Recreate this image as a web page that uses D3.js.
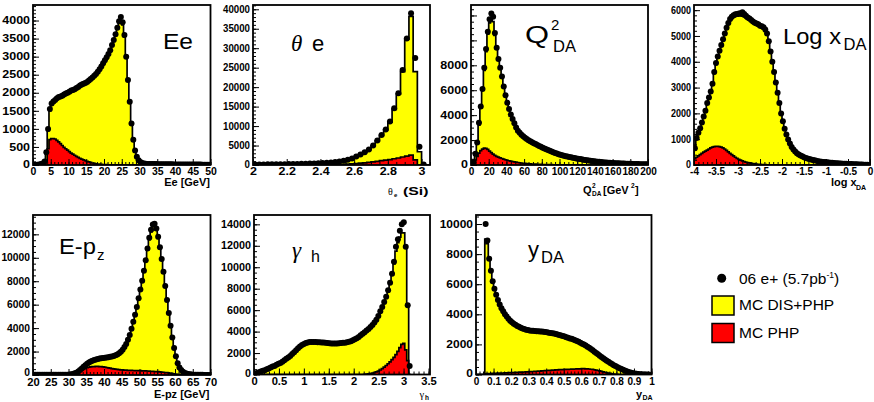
<!DOCTYPE html>
<html><head><meta charset="utf-8">
<script src="https://cdn.jsdelivr.net/npm/d3@7"></script>
<style>
body{margin:0;background:#fff;}
svg{display:block;font-family:"Liberation Sans",Arial,Helvetica,sans-serif;}
</style></head><body>
<svg id="c" width="874" height="402"></svg>
<script>
// ---------- Ee (0.5 GeV bins from 0) ----------
const eeData = [10,10,10,15,25,40,100,350,1000,1550,
1700,1760,1800,1850,1880,1900,1920,1950,1980,2000,
2030,2060,2080,2100,2130,2160,2200,2230,2250,2270,
2300,2340,2380,2420,2470,2520,2580,2650,2730,2820,
2900,2980,3070,3180,3320,3460,3620,3800,3980,4100,
3950,3600,3000,2350,1750,1150,700,400,230,130,
80,55,40,35,30,30,28,27,26,25,
24,23,22,21,20,20,19,18,18,17,
17,16,16,15,15,14,14,13,13,12,
12,12,11,11,11,10,10,10,10,10];
const eeMC = [5,5,5,10,20,35,90,320,950,1500,
1680,1750,1800,1840,1870,1890,1910,1940,1970,1990,
2020,2050,2070,2090,2120,2150,2180,2210,2240,2260,
2290,2330,2370,2410,2460,2510,2570,2640,2720,2800,
2880,2960,3050,3160,3290,3430,3590,3760,3920,3960,
3880,3550,2980,2330,1730,1130,690,390,220,120,
75,50,38,32,28,27,26,25,24,23,
22,21,20,19,19,18,17,17,16,16,
15,15,14,14,13,13,12,12,12,11,
11,11,10,10,10,9,9,9,9,9];
const eePHP = [0,0,0,0,0,0,20,100,450,700,
730,730,720,680,640,590,540,490,450,410,
370,330,300,270,240,210,185,160,140,120,
100,85,70,55,45,35,28,22,17,13,
10,8,6,5,4,3,2,2,1,1,
0,0,0,0,0,0,0,0,0,0,0,0,0,0,0,0,0,0,0,0,
0,0,0,0,0,0,0,0,0,0,0,0,0,0,0,0,0,0,0,0,
0,0,0,0,0,0,0,0,0,0];
const eeXTicks = [0,5,10,15,20,25,30,35,40,45,50];
const eeYTicks = [0,500,1000,1500,2000,2500,3000,3500,4000];

// ---------- theta_e (0.025 bins from 2.0) ----------
const thData = [150,150,150,170,180,200,200,220,250,260,
280,300,330,360,400,440,500,560,640,750,
900,1100,1350,1700,2200,2700,3300,4000,5000,6300,
7700,9100,11200,14600,18400,24400,32500,39000,27500,4700,
100,0];
const thMC = [120,120,130,140,150,170,180,200,220,240,
260,280,310,340,380,420,480,540,620,730,
880,1080,1320,1650,2150,2650,3250,3950,4900,6200,
7600,9000,11000,14300,18200,24000,32300,38200,24000,3400,
0,0];
const thPHP = [0,0,0,0,0,0,0,0,0,0,
0,0,0,0,10,20,30,45,65,90,
120,170,230,300,380,470,570,680,800,950,
1100,1250,1400,1600,1800,2050,2300,2550,1300,0,
0,0];
const thXTicks = [2,2.2,2.4,2.6,2.8,3];
const thYTicks = [0,5000,10000,15000,20000,25000,30000,35000,40000];

// ---------- Q2_DA (2 GeV^2 bins from 0) ----------
const q2Data = [50,250,900,1800,3400,4700,6100,7800,9300,10700,
11700,12150,11900,10600,9400,8500,7800,7100,6300,5600,
5000,4500,4050,3700,3350,3000,2750,2580,2430,2300,
2190,2080,1990,1900,1820,1750,1680,1600,1530,1460,
1390,1330,1260,1200,1140,1080,1020,970,920,870,
830,790,750,710,680,650,620,590,560,530,
500,480,455,430,405,385,365,345,325,305,
290,270,255,240,225,210,200,190,180,170,
160,150,142,135,128,120,114,108,102,97,
92,87,82,78,74,70,67,64,61,58];
const q2MC = [40,200,800,1700,3200,4600,6000,7600,9100,10500,
11400,11750,11500,10400,9300,8450,7750,7050,6300,5600,
5000,4500,4050,3700,3350,3010,2760,2580,2430,2300,
2190,2080,1990,1900,1820,1750,1680,1600,1530,1460,
1390,1330,1260,1200,1140,1080,1020,970,920,870,
830,790,750,710,680,650,620,590,560,530,
500,480,455,430,405,385,365,345,325,305,
290,270,255,240,225,210,200,190,180,170,
160,150,142,135,128,120,114,108,102,97,
92,87,82,78,74,70,67,64,61,58];
const q2PHP = [0,100,400,700,950,1150,1280,1350,1330,1250,
1120,1000,880,780,700,630,570,520,470,420,
380,340,310,280,250,225,200,180,160,140,
125,110,100,90,80,72,65,58,52,46,
41,37,33,30,27,24,21,19,17,15,
13,12,11,10,9,8,7,6,5,5,
4,4,3,3,2,2,2,1,1,1,
1,0,0,0,0,0,0,0,0,0,
0,0,0,0,0,0,0,0,0,0,
0,0,0,0,0,0,0,0,0,0];
const q2XTicks = [0,20,40,60,80,100,120,140,160,180,200];
const q2YTicks = [0,2000,4000,6000,8000,10000,12000];
const q2YLabels = [0,2000,4000,6000,8000];

// ---------- log x_DA (0.04 bins from -4) ----------
const lxData = [650,1050,1250,1420,1650,1880,2100,2400,2620,2850,
3150,3600,3950,4200,4430,4650,4870,5100,5320,5500,
5660,5740,5800,5840,5850,5870,5880,5920,5850,5780,
5720,5680,5620,5560,5510,5480,5450,5400,5380,5340,
5250,5100,4800,4400,4000,3600,3200,2800,2400,2000,
1700,1400,1180,990,830,700,600,520,460,410,
370,335,300,275,250,230,210,195,180,165,
150,140,130,120,112,104,96,90,84,78,
72,66,60,56,52,48,44,41,38,35,
32,29,26,23,20,17,14,10,6,2];
const lxMC = [600,1000,1200,1400,1620,1850,2080,2370,2600,2830,
3120,3550,3900,4150,4400,4620,4840,5060,5270,5450,
5600,5680,5730,5760,5770,5780,5780,5770,5740,5700,
5660,5620,5570,5520,5480,5440,5400,5360,5320,5270,
5180,5030,4750,4370,3970,3580,3180,2780,2380,1990,
1690,1400,1170,980,820,700,600,520,460,410,
370,335,300,275,250,230,210,195,180,165,
150,140,130,120,112,104,96,90,84,78,
72,66,60,56,52,48,44,41,38,35,
32,29,26,23,20,17,14,10,6,2];
const lxPHP = [250,300,350,400,450,500,540,580,620,660,
690,710,720,720,710,690,660,620,570,510,
450,400,350,300,260,220,190,160,135,115,
95,80,66,55,45,37,30,24,19,15,
12,9,7,5,4,3,2,1,0,0,
0,0,0,0,0,0,0,0,0,0,0,0,0,0,0,0,0,0,0,0,
0,0,0,0,0,0,0,0,0,0,0,0,0,0,0,0,0,0,0,0,
0,0,0,0,0,0,0,0,0,0];
const lxXTicks = [-4,-3.5,-3,-2.5,-2,-1.5,-1,-0.5,0];
const lxYTicks = [0,1000,2000,3000,4000,5000,6000];

// ---------- E-pz (0.5 GeV bins from 20) ----------
const epData = [20,20,20,20,20,20,20,20,20,20,
20,20,20,20,20,20,20,20,25,30,
40,60,90,140,200,300,420,560,700,840,
960,1060,1150,1220,1280,1330,1370,1400,1430,1460,
1480,1500,1520,1550,1580,1620,1680,1750,1850,1990,
2150,2380,2650,3000,3420,3950,4550,5150,5800,6550,
7300,8050,8900,9800,10800,11700,12400,12850,12900,12500,
11800,10900,9900,8800,7600,6400,5300,4200,3200,2300,
1600,1000,650,420,280,180,120,80,55,40,
30,25,20,20,15,15,10,10,10,10];
const epMC = [10,10,10,10,10,10,10,10,10,10,
10,10,10,10,10,15,15,20,20,25,
35,55,85,130,190,280,400,540,680,820,
940,1040,1130,1200,1260,1310,1350,1380,1410,1440,
1460,1480,1500,1530,1560,1600,1660,1730,1830,1970,
2130,2360,2630,2980,3400,3930,4520,5120,5780,6520,
7270,8020,8870,9750,10700,11550,12200,12650,12700,12350,
11650,10800,9800,8700,7550,6350,5250,4150,3150,2250,
1550,970,620,400,260,170,110,75,50,35,
25,20,18,15,12,10,8,6,5,4];
const epPHP = [0,0,0,0,0,0,0,0,0,0,
0,0,0,0,0,0,0,0,0,0,
0,0,20,60,130,220,320,420,500,570,
620,660,690,710,720,730,730,720,710,690,
670,640,610,580,550,520,500,480,460,440,
430,420,410,400,395,390,385,380,375,370,
365,360,350,345,340,330,320,310,300,290,
280,265,250,235,215,195,175,150,125,100,
75,50,30,15,5,0,0,0,0,0,
0,0,0,0,0,0,0,0,0,0];
const epXTicks = [20,25,30,35,40,45,50,55,60,65,70];
const epYTicks = [0,2000,4000,6000,8000,10000,12000];

// ---------- gamma_h (pi/80 bins from 0) ----------
const gData = [80,150,220,280,340,400,480,570,660,740,
800,900,1000,1080,1200,1340,1460,1580,1720,1900,
2080,2270,2450,2620,2750,2850,2930,2990,3020,3040,
3040,3030,3010,3000,2990,2980,2960,2940,2920,2900,
2890,2890,2900,2910,2930,2950,2970,3010,3060,3110,
3190,3280,3380,3500,3650,3800,3950,4100,4250,4420,
4620,4850,5100,5450,5900,6300,6750,7250,7850,8550,
9400,10500,11900,12600,13400,14000,14200,11900,6450,800];
const gMC = [50,120,200,260,320,390,470,560,650,730,
800,890,990,1080,1190,1330,1450,1570,1710,1880,
2060,2250,2430,2600,2730,2830,2910,2970,3000,3020,
3020,3010,2990,2980,2970,2960,2940,2920,2900,2880,
2870,2870,2880,2890,2910,2930,2960,3000,3050,3100,
3170,3260,3360,3480,3620,3770,3920,4070,4230,4400,
4600,4830,5080,5400,5800,6200,6650,7150,7750,8450,
9300,10300,11500,12300,12800,13200,13200,11900,6450,0];
const gPHP = [0,0,0,0,0,0,0,0,0,0,0,0,0,0,0,0,0,0,0,0,
0,0,0,0,0,0,0,0,0,0,0,0,0,0,0,0,0,0,0,0,
0,0,0,0,0,0,0,0,0,0,0,0,0,0,0,0,
20,40,60,90,130,180,240,320,420,540,680,840,1000,1180,1380,1600,1850,2150,2500,2800,2900,2300,1300,0];
const gXTicks = [0,0.5,1,1.5,2,2.5,3,3.5];
const gYTicks = [0,2000,4000,6000,8000,10000,12000,14000];

// ---------- y_DA (0.01 bins from 0) ----------
const yData = [0,0,0,0,0,10000,8900,7700,6900,6200,
5700,5300,4950,4650,4400,4200,4000,3850,3700,3580,
3470,3380,3300,3230,3170,3110,3060,3020,2980,2950,
2930,2910,2900,2890,2880,2870,2860,2850,2840,2820,
2800,2780,2760,2740,2720,2690,2660,2630,2600,2560,
2520,2480,2440,2400,2370,2330,2280,2230,2170,2110,
2050,1990,1920,1850,1770,1690,1610,1520,1430,1340,
1250,1160,1080,1000,920,840,760,690,620,560,
500,440,380,330,280,230,190,150,115,85,
60,42,28,18,11,6,3,2,1,0];
const yMC = [0,0,0,0,0,9000,8700,7600,6850,6150,
5650,5250,4900,4620,4380,4170,3980,3830,3690,3570,
3460,3370,3290,3220,3160,3100,3050,3010,2970,2940,
2920,2900,2890,2880,2870,2860,2850,2840,2830,2810,
2790,2770,2750,2730,2710,2680,2650,2620,2590,2550,
2510,2470,2430,2390,2360,2320,2270,2220,2160,2100,
2040,1980,1910,1840,1760,1680,1600,1510,1420,1330,
1240,1150,1070,990,910,830,750,680,610,550,
490,430,370,320,270,220,180,140,110,80,
55,40,26,16,10,5,3,2,1,0];
const yPHP = [0,0,0,0,0,50,55,60,65,70,
75,80,85,90,95,100,105,110,115,120,
125,130,135,140,150,155,160,165,175,180,
190,195,200,210,215,225,230,240,250,255,
265,270,280,290,295,305,310,320,325,330,
335,340,345,350,355,360,365,370,375,380,
385,385,380,375,365,350,335,315,290,265,
240,210,180,150,120,95,70,50,30,15,
5,0,0,0,0,0,0,0,0,0,
0,0,0,0,0,0,0,0,0,0];
const yXTicks = [0,0.1,0.2,0.3,0.4,0.5,0.6,0.7,0.8,0.9,1];
const yYTicks = [0,2000,4000,6000,8000,10000];

const legendLabels = ["06 e+ (5.7pb", "-1", ")", "MC DIS+PHP", "MC PHP"];

// ---------- drawing ----------
const svg = d3.select('#c');
const FONT = '"Liberation Sans",Arial,Helvetica,sans-serif';

function stepPts(vals, x0, w) {
  const pts = [[x0, 0]];
  vals.forEach((v, i) => { pts.push([x0 + i * w, v], [x0 + (i + 1) * w, v]); });
  pts.push([x0 + vals.length * w, 0]);
  return pts;
}

let clipId = 0;
function drawPanel(p) {
  const [L, T, R, B] = p.box;
  const x = d3.scaleLinear().domain(p.xDom).range([L, R]);
  const y = d3.scaleLinear().domain([0, p.yMax]).range([B, T]);
  const g = svg.append('g');
  const cid = 'clip' + (clipId++);
  svg.append('defs').append('clipPath').attr('id', cid)
    .append('rect').attr('x', L).attr('y', T).attr('width', R - L).attr('height', B - T);
  const gc = g.append('g').attr('clip-path', `url(#${cid})`);
  const line = d3.line().x(d => x(d[0])).y(d => y(d[1]));
  [[p.mc, '#ffff00'], [p.php, '#ff0000']].forEach(([vals, col]) => {
    const pts = stepPts(vals, p.x0, p.w);
    gc.append('path').attr('d', line(pts) + 'Z').attr('fill', col).attr('stroke', 'none');
    gc.append('path').attr('d', line(pts)).attr('fill', 'none').attr('stroke', '#000').attr('stroke-width', 1.7);
  });
  gc.selectAll('circle.pt').data(p.data.map((v, i) => [p.x0 + (i + 0.5) * p.w, v]).filter(d => d[1] > 0))
    .enter().append('circle').attr('class', 'pt')
    .attr('cx', d => x(d[0])).attr('cy', d => y(d[1])).attr('r', 3).attr('fill', '#000');

  // axes (ROOT style: ticks inside the frame)
  const xMinor = d3.range(p.xDom[0], p.xDom[1] + 1e-9, p.xMinor);
  const yMinor = d3.range(0, p.yMax, p.yMinor);
  const ax = g.append('g').attr('transform', `translate(0,${B})`)
    .call(d3.axisBottom(x).tickValues(xMinor).tickSize(-3).tickFormat(''));
  const ax2 = g.append('g').attr('transform', `translate(0,${B})`)
    .call(d3.axisBottom(x).tickValues(p.xTicks).tickSize(-6).tickPadding(p.xPad || 2.5).tickFormat(d => String(d)));
  const ay = g.append('g').attr('transform', `translate(${L},0)`)
    .call(d3.axisLeft(y).tickValues(yMinor).tickSize(-3).tickFormat(''));
  const labeled = p.yLabels || p.yTicks;
  const ay2 = g.append('g').attr('transform', `translate(${L},0)`)
    .call(d3.axisLeft(y).tickValues(p.yTicks).tickSize(-6).tickPadding(3)
      .tickFormat(d => labeled.includes(d) ? String(d) : ''));
  [ax, ax2, ay, ay2].forEach(a => {
    a.select('.domain').remove();
    a.selectAll('line').attr('stroke', '#000').attr('stroke-width', 1);
    a.selectAll('text').attr('font-family', FONT).attr('font-weight', 'bold').attr('font-size', 10).attr('fill', '#000');
  });
  ax2.selectAll('text').attr('transform', `scale(${p.xs || 1},1)`);
  ay2.selectAll('text').attr('transform', `scale(${p.ys || 1},1)`).attr('x', -3 / (p.ys || 1));
  // keep the bottom "0" label just above the x labels
  ay2.selectAll('.tick').filter(d => d === 0).select('text').attr('dy', p.zeroDy || '0.2em');
  // frame
  g.append('rect').attr('x', L).attr('y', T).attr('width', R - L).attr('height', B - T)
    .attr('fill', 'none').attr('stroke', '#000').attr('stroke-width', 1.8);
}

const panels = [
  {data: eeData, mc: eeMC, php: eePHP, x0: 0, w: 0.5, xDom: [0, 50], yMax: 4430, box: [33, 5, 210.5, 165],
   xTicks: eeXTicks, xMinor: 1, yTicks: eeYTicks, yMinor: 100, ys: 1.25, xs: 1.05},
  {data: thData, mc: thMC, php: thPHP, x0: 2, w: 0.025, xDom: [2, 3.05], yMax: 41100, box: [253, 5, 430, 165],
   xTicks: thXTicks, xMinor: 0.05, yTicks: thYTicks, yMinor: 1000, ys: 0.97, xs: 1.25},
  {data: q2Data, mc: q2MC, php: q2PHP, x0: 0, w: 2, xDom: [0, 200], yMax: 12840, box: [471, 5, 648, 165],
   xTicks: q2XTicks, xMinor: 5, yTicks: q2YTicks, yLabels: q2YLabels, yMinor: 500, ys: 1.25, xs: 1.0},
  {data: lxData, mc: lxMC, php: lxPHP, x0: -4, w: 0.04, xDom: [-4, 0], yMax: 6200, box: [694, 5, 870, 165],
   xTicks: lxXTicks, xMinor: 0.1, yTicks: lxYTicks, yMinor: 200, ys: 0.9, xs: 1.0},
  {data: epData, mc: epMC, php: epPHP, x0: 20, w: 0.5, xDom: [20, 70], yMax: 13650, box: [33, 215, 210.5, 375],
   xTicks: epXTicks, xMinor: 1, yTicks: epYTicks, yMinor: 500, xPad: 4, ys: 1.03, xs: 1.12, zeroDy: '0.05em'},
  {data: gData, mc: gMC, php: gPHP, x0: 0, w: Math.PI / 80, xDom: [0, 3.53], yMax: 14870, box: [254, 215, 430, 374.5],
   xTicks: gXTicks, xMinor: 0.1, yTicks: gYTicks, yMinor: 500, xPad: 3.5, ys: 1.08, xs: 1.12},
  {data: yData, mc: yMC, php: yPHP, x0: 0, w: 0.01, xDom: [0, 1], yMax: 10600, box: [476, 215, 651.5, 374.5],
   xTicks: yXTicks, xMinor: 0.02, yTicks: yYTicks, yMinor: 500, xPad: 3.5, ys: 1.2, xs: 1.0}
];
panels.forEach(drawPanel);

// ---------- text helpers ----------
function t(x, y, s, size, opt = {}) {
  const e = svg.append('text').attr('x', x).attr('y', y).text(s)
    .attr('font-family', opt.family || FONT).attr('font-size', size).attr('fill', '#000');
  if (opt.bold) e.attr('font-weight', 'bold');
  if (opt.italic) e.attr('font-style', 'italic');
  if (opt.anchor) e.attr('text-anchor', opt.anchor);
  if (opt.len) e.attr('textLength', opt.len).attr('lengthAdjust', 'spacingAndGlyphs');
  return e;
}
const SERIF = '"Liberation Serif","DejaVu Serif",serif';

// panel titles
t(163, 49, 'Ee', 22, {len: 30});
t(291, 51, 'θ', 23, {italic: true, family: SERIF});
t(312, 51, 'e', 22);
t(525, 43, 'Q', 23, {len: 24});
t(551, 30, '2', 15);
t(553, 52, 'DA', 16, {len: 23});
t(783, 44, 'Log x', 22, {len: 58});
t(843.5, 50, 'DA', 16, {len: 23});
t(59, 254, 'E-p', 22, {len: 37});
t(97, 260, 'z', 15);
t(292, 258, 'γ', 23, {italic: true, family: SERIF});
t(311, 262, 'h', 16);
t(528, 257, 'y', 22);
t(541, 263, 'DA', 16, {len: 23});

// axis titles
t(210, 186, 'Ee [GeV]', 11, {bold: true, anchor: 'end'});
t(388, 194.5, 'θ', 10, {family: SERIF});
t(394, 196.5, 'e', 6, {bold: true});
t(403, 194.5, '(Si)', 11, {bold: true, len: 25.5});
t(583, 193.5, 'Q', 11, {bold: true});
t(592, 188, '2', 6.5, {bold: true});
t(592, 196, 'DA', 6.5, {bold: true});
t(603, 193.5, '[GeV', 11, {bold: true});
t(631, 188, '2', 6.5, {bold: true});
t(635, 193.5, ']', 11, {bold: true});
t(831, 186, 'log x', 11, {bold: true});
t(856, 190, 'DA', 7, {bold: true});
t(209.5, 398, 'E-pz [GeV]', 11, {bold: true, anchor: 'end'});
t(419.5, 398, 'γ', 10.5, {family: SERIF});
t(425, 400, 'h', 6.5, {bold: true});
t(636, 398, 'y', 11, {bold: true});
t(642.5, 400, 'DA', 7, {bold: true});

// legend
svg.append('circle').attr('cx', 721.7).attr('cy', 278.3).attr('r', 4.5).attr('fill', '#000');
const lt = svg.append('text').attr('x', 739).attr('y', 283.5).attr('font-family', FONT).attr('font-size', 15.5).attr('fill', '#000');
lt.append('tspan').text(legendLabels[0]);
lt.append('tspan').attr('dy', -6).attr('font-size', 8.5).text(legendLabels[1]);
lt.append('tspan').attr('dy', 6).text(legendLabels[2]);
svg.append('rect').attr('x', 712).attr('y', 296).attr('width', 22).attr('height', 19)
  .attr('fill', '#ffff00').attr('stroke', '#000').attr('stroke-width', 1.5);
t(739, 310, legendLabels[3], 15.5);
svg.append('rect').attr('x', 712).attr('y', 323.5).attr('width', 22).attr('height', 19)
  .attr('fill', '#ff0000').attr('stroke', '#000').attr('stroke-width', 1.5);
t(739, 337.5, legendLabels[4], 15.5);
</script></body></html>
